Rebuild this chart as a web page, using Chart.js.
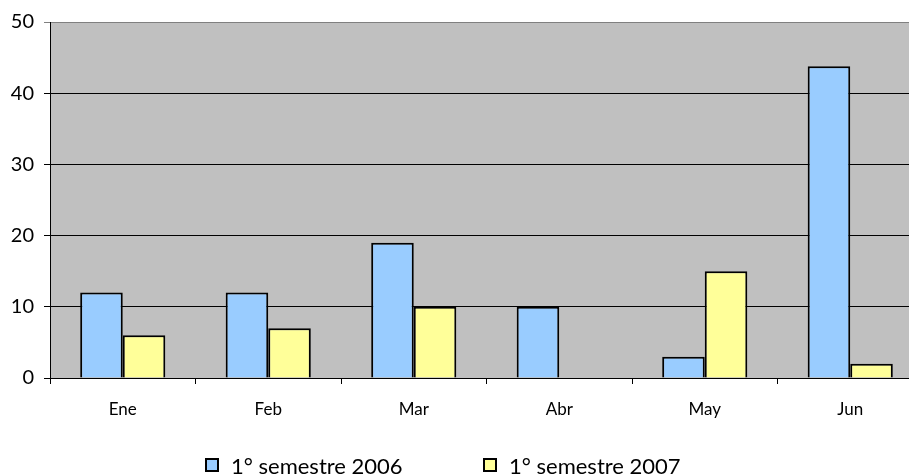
<!DOCTYPE html>
<html>
<head>
<meta charset="utf-8">
<script src="https://cdn.jsdelivr.net/npm/chart.js@4/dist/chart.umd.min.js"></script>
<style>
    html, body { margin: 0; padding: 0; overflow: hidden; background: #fff; }
    #caixa { position: relative; width: 930px; height: 476px; }
    #legenda { position: absolute; top: 452px; left: 0; width: 930px; height: 26px; font-family: Lato, sans-serif; font-size: 22px; color: #000; }
    .item { position: absolute; top: 0; display: flex; align-items: center; height: 26px; white-space: nowrap; }
    .caixinha { width: 14px; height: 14px; border: 2px solid #000; box-sizing: border-box; margin-right: 12px; }
</style>
</head>
<body>
<div id="caixa">
    <canvas id="ocorrenciasPorMes"></canvas>
    <div id="legenda"></div>
</div>
<script>
// dados do gráfico
const meses = ['Ene', 'Feb', 'Mar', 'Abr', 'May', 'Jun'];
const semestre2006 = [12, 12, 19, 10, 3, 43.8];
const semestre2007 = [6, 7, 10, 0, 15, 2];
const rotulosSeries = ['1° semestre 2006', '1° semestre 2007'];
const coresSeries = ['#99CCFF', '#FFFF99'];
const ticksY = [0, 10, 20, 30, 40, 50];

// fundo cinza da área do gráfico
const fundoCinza = {
    id: 'fundoCinza',
    beforeDraw(chart) {
        const { ctx, chartArea } = chart;
        ctx.save();
        ctx.fillStyle = '#C0C0C0';
        ctx.fillRect(chartArea.left, chartArea.top, chartArea.right - chartArea.left, chartArea.bottom - chartArea.top);
        ctx.strokeStyle = '#808080';
        ctx.lineWidth = 1;
        ctx.beginPath();
        ctx.moveTo(chartArea.left, chartArea.top + 0.5);
        ctx.lineTo(chartArea.right, chartArea.top + 0.5);
        ctx.stroke();
        ctx.restore();
    }
};

let dados = {
    labels: meses,
    datasets: [{
        label: rotulosSeries[0],
        data: semestre2006,
        backgroundColor: coresSeries[0],
        borderColor: '#000',
        borderWidth: 2
    },
    {
        label: rotulosSeries[1],
        data: semestre2007,
        backgroundColor: coresSeries[1],
        borderColor: '#000',
        borderWidth: 2
    }]
};

const config1 = {
    type: 'bar',
    data: dados,
    plugins: [fundoCinza],
    options: {
        responsive: true,
        maintainAspectRatio: false,
        animation: false,
        layout: { padding: { top: 18, right: 7, left: 0, bottom: 0 } },
        datasets: { bar: { barPercentage: 1, categoryPercentage: 0.585 } },
        plugins: {
            legend: { display: false },
            tooltip: { enabled: false }
        },
        scales: {
            x: {
                grid: { offset: true, drawOnChartArea: false, drawTicks: true, tickLength: 6, color: '#000' },
                border: { color: '#000', width: 1 },
                ticks: { color: '#000', font: { family: 'Lato', size: 17 }, padding: 15 },
                afterFit(scale) { scale.height = 98; }
            },
            y: {
                min: 0,
                max: 50,
                afterBuildTicks(scale) { scale.ticks = ticksY.map(v => ({ value: v })); },
                grid: {
                    color: (c) => c.tick && c.tick.value === 50 ? '#808080' : '#000',
                    tickLength: 6
                },
                border: { color: '#000', width: 1 },
                ticks: { color: '#000', font: { family: 'Lato', size: 20 }, padding: 10 },
                afterFit(scale) { scale.width = 50; }
            }
        }
    }
};

let grafico = new Chart(document.getElementById('ocorrenciasPorMes'), config1);

// legenda em HTML a partir dos datasets
const posicoesLegenda = [205, 483];
const legenda = document.getElementById('legenda');
grafico.data.datasets.forEach((ds, i) => {
    const item = document.createElement('div');
    item.className = 'item';
    item.style.left = posicoesLegenda[i] + 'px';
    item.innerHTML = `<span class="caixinha" style="background:${ds.backgroundColor}"></span><span>${ds.label}</span>`;
    legenda.appendChild(item);
});
</script>
</body>
</html>
